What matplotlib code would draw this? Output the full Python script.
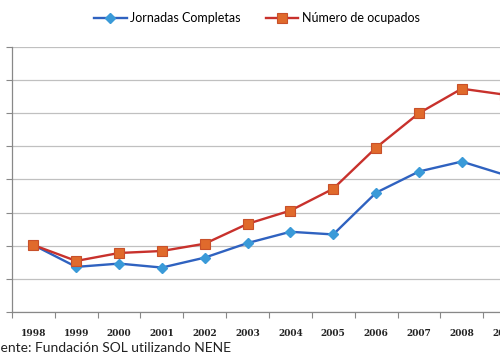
import matplotlib.pyplot as plt

# -------- data (index) --------
years = ["1998", "1999", "2000", "2001", "2002", "2003",
         "2004", "2005", "2006", "2007", "2008", "2009"]
jornadas = [100.1, 96.8, 97.3, 96.7, 98.2, 100.4, 102.1, 101.7, 108.0, 111.2, 112.7, 110.7]
ocupados = [100.1, 97.7, 98.9, 99.2, 100.3, 103.3, 105.3, 108.6, 114.8, 120.0, 123.7, 122.8]
source = "Fuente: Fundación SOL utilizando NENE"

fig = plt.figure(figsize=(5, 3.64), dpi=100)
ax = fig.add_axes([0.024, 0.143, 1.028, 0.728])

x = list(range(len(years)))

ax.plot(x, jornadas, color="#2f62c0", lw=1.7, marker="D", ms=5.5,
        mfc="#3a9ad8", mec="#3a9ad8", label="Jornadas Completas", zorder=3)
ax.plot(x, ocupados, color="#c8312c", lw=1.7, marker="s", ms=7,
        mfc="#e06a2c", mec="#c8502a", mew=0.8, label="Número de ocupados", zorder=4)

ax.set_xlim(-0.5, len(years) - 0.5)
ax.set_ylim(90, 130)
ax.set_yticks(range(90, 131, 5))
ax.set_yticklabels([])
ax.grid(axis="y", color="#c0c0c0", lw=0.9)
ax.set_axisbelow(True)

# category ticks between the years
ax.set_xticks([i - 0.5 for i in range(len(years) + 1)], minor=False)
ax.set_xticklabels([])
ax.set_xticks(x, minor=True)
ax.set_xticklabels(years, minor=True, fontsize=6.5, fontweight="bold",
                   family="DejaVu Serif", color="#222222")
ax.tick_params(axis="x", which="major", length=4, color="#888888", direction="out")
ax.tick_params(axis="x", which="minor", length=0, pad=12)
ax.tick_params(axis="y", length=4, color="#888888")

for side in ["top", "right"]:
    ax.spines[side].set_visible(False)
for side in ["left", "bottom"]:
    ax.spines[side].set_color("#888888")
    ax.spines[side].set_linewidth(0.9)

fig.legend(loc="center", bbox_to_anchor=(0.514, 0.95), ncol=2, frameon=False,
           prop={"family": "Lato", "size": 9}, handlelength=2.6, columnspacing=2.0,
           handletextpad=0.3)

fig.text(-0.03, 0.034, source, family="Lato", fontsize=10, color="#222222")

fig.savefig("out.png", dpi=100)
